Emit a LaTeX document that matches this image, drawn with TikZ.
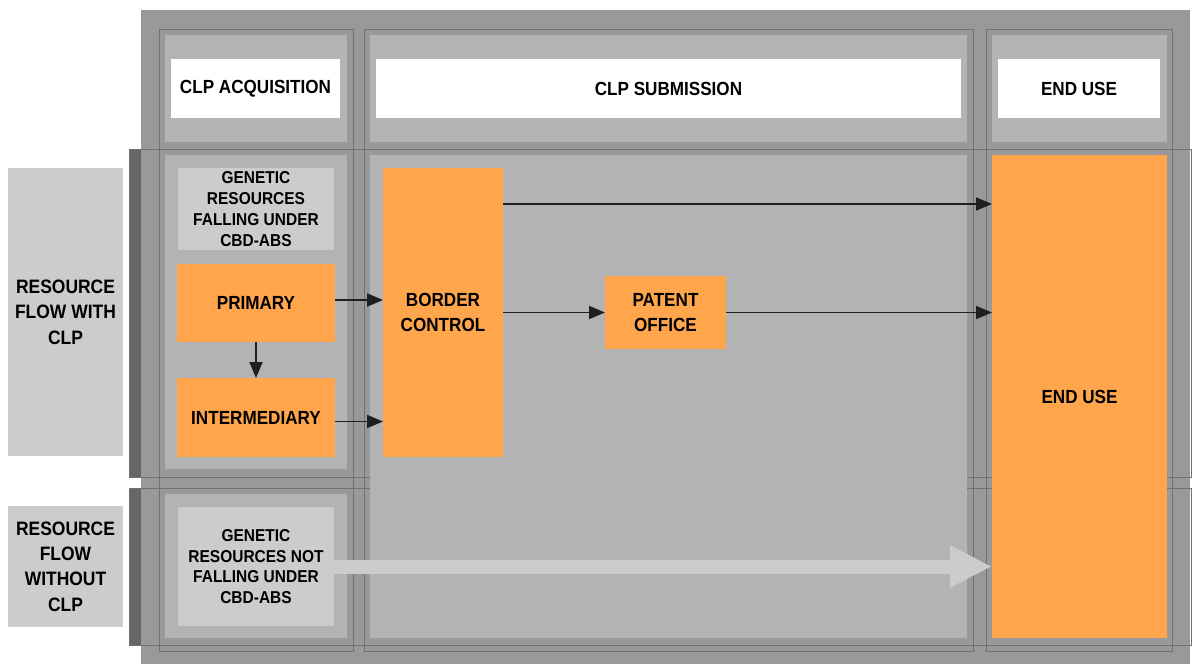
\documentclass[tikz,border=0pt]{standalone}
\usepackage{fontspec}
\setmainfont{Liberation Sans}[FakeStretch=0.9]
\usetikzlibrary{arrows.meta,fit}
\definecolor{bggray}{HTML}{999999}
\definecolor{cellgray}{HTML}{B3B3B3}
\definecolor{lightbox}{HTML}{CCCCCC}
\definecolor{darkband}{HTML}{666666}
\definecolor{lineg}{HTML}{717171}
\definecolor{orng}{HTML}{FFA64D}
\begin{document}
\begin{tikzpicture}[x=0.5pt,y=-0.5pt,
  every node/.style={inner sep=0pt, outer sep=0pt},
  bgarea/.style={fill=bggray, draw=none},
  coloutline/.style={draw=lineg, line width=0.5pt, fill=none},
  rowoutline/.style={draw=lineg, line width=0.5pt, fill=none},
  band/.style={fill=darkband, draw=none},
  cell/.style={fill=cellgray, draw=none},
  whitebox/.style={fill=white, draw=none},
  greybox/.style={fill=lightbox, draw=none},
  orangebox/.style={fill=orng, draw=none},
  maintext/.style={font=\bfseries\fontsize{9.5}{12.4}\selectfont, align=center, text=black},
  sidetext/.style={font=\bfseries\fontsize{9.7}{12.7}\selectfont, align=center, text=black},
  gentext/.style={font=\bfseries\fontsize{8.6}{10.4}\selectfont, align=center, text=black},
  arr/.style={draw=black!88, line width=0.9pt, -{Triangle[length=8pt,width=6.5pt]}},
  fatarr/.style={draw=lightbox, line width=7pt, -{Triangle[length=21pt,width=19.5pt]}}
]
\useasboundingbox (0,0) rectangle (1192,664);

% outer background
\node[bgarea, fit={(141,10) (1190,664)}] (bg) {};

% column outlines
\node[coloutline, fit={(159,29) (353,651)}] (col1) {};
\node[coloutline, fit={(364,29) (973,651)}] (col2) {};
\node[coloutline, fit={(986,29) (1172,651)}] (col3) {};

% row bands and outlines
\node[band, fit={(129,149) (141,477)}] (band1) {};
\node[band, fit={(129,488) (141,645)}] (band2) {};
\node[rowoutline, fit={(129,149) (1191,477)}] (row1) {};
\node[rowoutline, fit={(129,488) (1191,645)}] (row2) {};

% cell fills
\node[cell, fit={(165,35) (347,142)}] (c11) {};
\node[cell, fit={(370,35) (967,142)}] (c12) {};
\node[cell, fit={(992,35) (1167,142)}] (c13) {};
\node[cell, fit={(165,155) (347,469)}] (c21) {};
\node[cell, fit={(165,494) (347,638)}] (c31) {};
\node[cell, fit={(370,155) (967,638)}] (c22) {};

% header labels
\node[whitebox, fit={(171,59) (340,118)}] (h1) {};
\node[maintext] (h1t) at (h1.center) {CLP ACQUISITION};
\node[whitebox, fit={(376,59) (961,118)}] (h2) {};
\node[maintext] (h2t) at (h2.center) {CLP SUBMISSION};
\node[whitebox, fit={(998,59) (1160,118)}] (h3) {};
\node[maintext] (h3t) at (h3.center) {END USE};

% side labels
\node[greybox, fit={(8,168) (123,456)}] (s1) {};
\node[sidetext] (s1t) at (s1.center) {RESOURCE\\FLOW WITH\\CLP};
\node[greybox, fit={(8,506) (123,627)}] (s2) {};
\node[sidetext] (s2t) at (s2.center) {RESOURCE\\FLOW\\WITHOUT\\CLP};

% content boxes
\node[greybox, fit={(178,168) (334,250)}] (gr1) {};
\node[gentext] (gr1t) at (gr1.center) {GENETIC\\RESOURCES\\FALLING UNDER\\CBD-ABS};
\node[orangebox, fit={(177,264) (335,342)}] (primary) {};
\node[maintext] (primaryt) at (primary.center) {PRIMARY};
\node[orangebox, fit={(177,378) (335,457)}] (inter) {};
\node[maintext] (intert) at (inter.center) {INTERMEDIARY};
\node[orangebox, fit={(383,168) (503,457)}] (border) {};
\node[maintext] (bordert) at (border.center) {BORDER\\CONTROL};
\node[orangebox, fit={(605,276) (726,349)}] (patent) {};
\node[maintext] (patentt) at (patent.center) {PATENT\\OFFICE};
\node[orangebox, fit={(992,155) (1167,638)}] (enduse) {};
\node[maintext] (enduset) at (enduse.center) {END USE};
\node[greybox, fit={(178,507) (334,626)}] (gr2) {};
\node[gentext] (gr2t) at (gr2.center) {GENETIC\\RESOURCES NOT\\FALLING UNDER\\CBD-ABS};

% connectors
\coordinate (btop) at ([yshift=-18pt]border.north east);
\draw[arr] (btop) -- (btop -| enduse.west);
\draw[arr] (border.east) -- (patent.west);
\draw[arr] (patent.east) -- (patent.east -| enduse.west);
\draw[arr] ([yshift=1.5pt]primary.east) -- ([yshift=1.5pt]primary.east -| border.west);
\draw[arr] ([yshift=-2pt]inter.east) -- ([yshift=-2pt]inter.east -| border.west);
\draw[arr] (primary.south) -- (inter.north);
\draw[fatarr] (gr2.east) -- (gr2.east -| enduse.west);
\end{tikzpicture}
\end{document}
